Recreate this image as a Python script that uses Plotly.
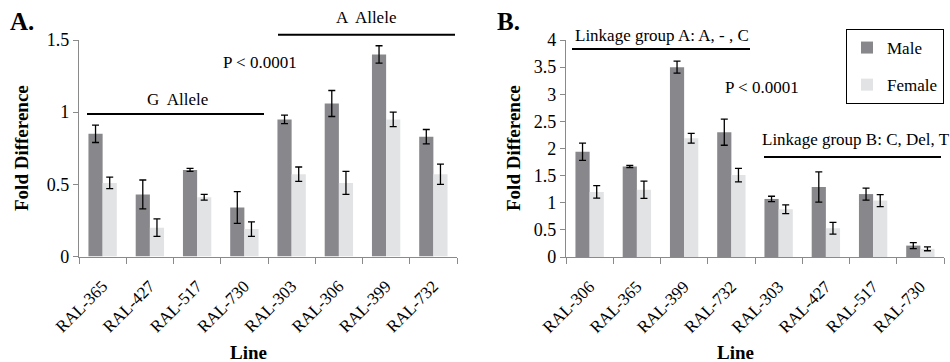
import plotly.graph_objects as go

# ---------------- data ----------------
lines_A = ["RAL-365", "RAL-427", "RAL-517", "RAL-730", "RAL-303", "RAL-306", "RAL-399", "RAL-732"]
male_A = [0.85, 0.43, 0.60, 0.34, 0.95, 1.06, 1.40, 0.83]
male_A_err = [0.06, 0.10, 0.01, 0.11, 0.03, 0.09, 0.06, 0.05]
female_A = [0.51, 0.20, 0.41, 0.19, 0.57, 0.51, 0.95, 0.57]
female_A_err = [0.04, 0.06, 0.02, 0.05, 0.05, 0.08, 0.05, 0.07]

lines_B = ["RAL-306", "RAL-365", "RAL-399", "RAL-732", "RAL-303", "RAL-427", "RAL-517", "RAL-730"]
male_B = [1.94, 1.67, 3.50, 2.30, 1.07, 1.29, 1.16, 0.21]
male_B_err = [0.16, 0.02, 0.11, 0.24, 0.05, 0.28, 0.11, 0.055]
female_B = [1.20, 1.24, 2.19, 1.51, 0.88, 0.53, 1.04, 0.15]
female_B_err = [0.115, 0.16, 0.09, 0.125, 0.08, 0.11, 0.11, 0.035]

y_ticks_A = [0, 0.5, 1, 1.5]
y_ticklabels_A = ["0", "0.5", "1", "1.5"]
y_ticks_B = [0, 0.5, 1, 1.5, 2, 2.5, 3, 3.5, 4]
y_ticklabels_B = ["0", "0.5", "1", "1.5", "2", "2.5", "3", "3.5", "4"]

# ---------------- style ----------------
W, H = 950, 362
FONT = "Liberation Serif"
MALE_C = "#88888c"
FEMALE_C = "#e2e3e5"
AXIS_C = "#8a8a8a"


def px(x):
    return x / W


def py(y):
    return 1 - y / H


fig = go.Figure()

err_style = dict(type="data", color="black", thickness=1.3, width=3.5, visible=True)

fig.add_trace(go.Bar(x=lines_A, y=male_A, name="Male", marker=dict(color=MALE_C, line=dict(width=0)),
                     error_y=dict(array=male_A_err, **err_style), xaxis="x", yaxis="y",
                     legendgroup="m", showlegend=False))
fig.add_trace(go.Bar(x=lines_A, y=female_A, name="Female", marker=dict(color=FEMALE_C, line=dict(width=0)),
                     error_y=dict(array=female_A_err, **err_style), xaxis="x", yaxis="y",
                     legendgroup="f", showlegend=False))
fig.add_trace(go.Bar(x=lines_B, y=male_B, name="Male", marker=dict(color=MALE_C, line=dict(width=0)),
                     error_y=dict(array=male_B_err, **err_style), xaxis="x2", yaxis="y2",
                     legendgroup="m", showlegend=True))
fig.add_trace(go.Bar(x=lines_B, y=female_B, name="Female", marker=dict(color=FEMALE_C, line=dict(width=0)),
                     error_y=dict(array=female_B_err, **err_style), xaxis="x2", yaxis="y2",
                     legendgroup="f", showlegend=True))

xaxis_common = dict(type="category", showline=True, linecolor=AXIS_C, linewidth=1.2,
                    ticks="outside", tickson="boundaries", ticklen=6, tickcolor=AXIS_C, tickwidth=1,
                    tickangle=-45, tickfont=dict(family=FONT, size=17, color="black"),
                    ticklabelstandoff=12,
                    showgrid=False, zeroline=False, automargin=False, fixedrange=True)
yaxis_common = dict(showline=True, linecolor=AXIS_C, linewidth=1.2, ticks="outside", ticklen=5,
                    tickcolor=AXIS_C, tickwidth=1, tickfont=dict(family=FONT, size=18, color="black"),
                    showgrid=False, zeroline=False, automargin=False, fixedrange=True)

ydom = [py(256.5), py(40)]

fig.update_layout(
    width=W, height=H,
    margin=dict(l=0, r=0, t=0, b=0),
    paper_bgcolor="white", plot_bgcolor="white",
    barmode="group", bargap=0.4, bargroupgap=0.0,
    font=dict(family=FONT, color="black"),
    xaxis=dict(domain=[px(79), px(457)], anchor="y", **xaxis_common),
    yaxis=dict(domain=ydom, anchor="x", range=[0, 1.5], tickvals=y_ticks_A, ticktext=y_ticklabels_A,
               **yaxis_common),
    xaxis2=dict(domain=[px(566), px(944)], anchor="y2", **xaxis_common),
    yaxis2=dict(domain=[py(257), py(40)], anchor="x2", range=[0, 4], tickvals=y_ticks_B,
                ticktext=y_ticklabels_B, **yaxis_common),
    legend=dict(x=px(846), y=py(29), xanchor="left", yanchor="top", bordercolor="black",
                borderwidth=1, bgcolor="white", font=dict(family=FONT, size=17, color="black"),
                tracegroupgap=12, itemwidth=30),
)

# horizontal bracket lines
line_style = dict(color="black", width=2)
for x0, x1, y in [(87, 264, 114), (278, 455, 34.7), (572, 750, 49), (764, 941, 157)]:
    fig.add_shape(type="line", xref="paper", yref="paper", x0=px(x0), x1=px(x1), y0=py(y), y1=py(y),
                  line=line_style)

ann_font = dict(family=FONT, size=17, color="black")
texts = [
    ("G  Allele", 177, 99, "center"),
    ("A  Allele", 366, 17, "center"),
    ("P < 0.0001", 260, 62, "center"),
    ("Linkage group A: A, - , C", 662, 36, "center"),
    ("P < 0.0001", 762, 87, "center"),
    ("Linkage group B: C, Del, T", 760, 139, "left"),
]
for t, x, y, anc in texts:
    fig.add_annotation(text=t, xref="paper", yref="paper", x=px(x), y=py(y), xanchor=anc, yanchor="middle",
                       showarrow=False, font=ann_font)

title_font = dict(family=FONT, size=19, color="black", weight="bold")
for t, x, y in [("A.", 22, 22), ("B.", 508, 21)]:
    fig.add_annotation(text=t, xref="paper", yref="paper", x=px(x), y=py(y),
                       xanchor="center", yanchor="middle", showarrow=False,
                       font=dict(family=FONT, size=25, color="black", weight="bold"))
for x, y in [(21, 148), (513, 148)]:
    fig.add_annotation(text="Fold Difference", xref="paper", yref="paper", x=px(x), y=py(y),
                       xanchor="center", yanchor="middle", textangle=-90, showarrow=False, font=title_font)
for x, y in [(248, 352), (735, 352)]:
    fig.add_annotation(text="Line", xref="paper", yref="paper", x=px(x), y=py(y),
                       xanchor="center", yanchor="middle", showarrow=False, font=title_font)

fig.write_html("out.html")
